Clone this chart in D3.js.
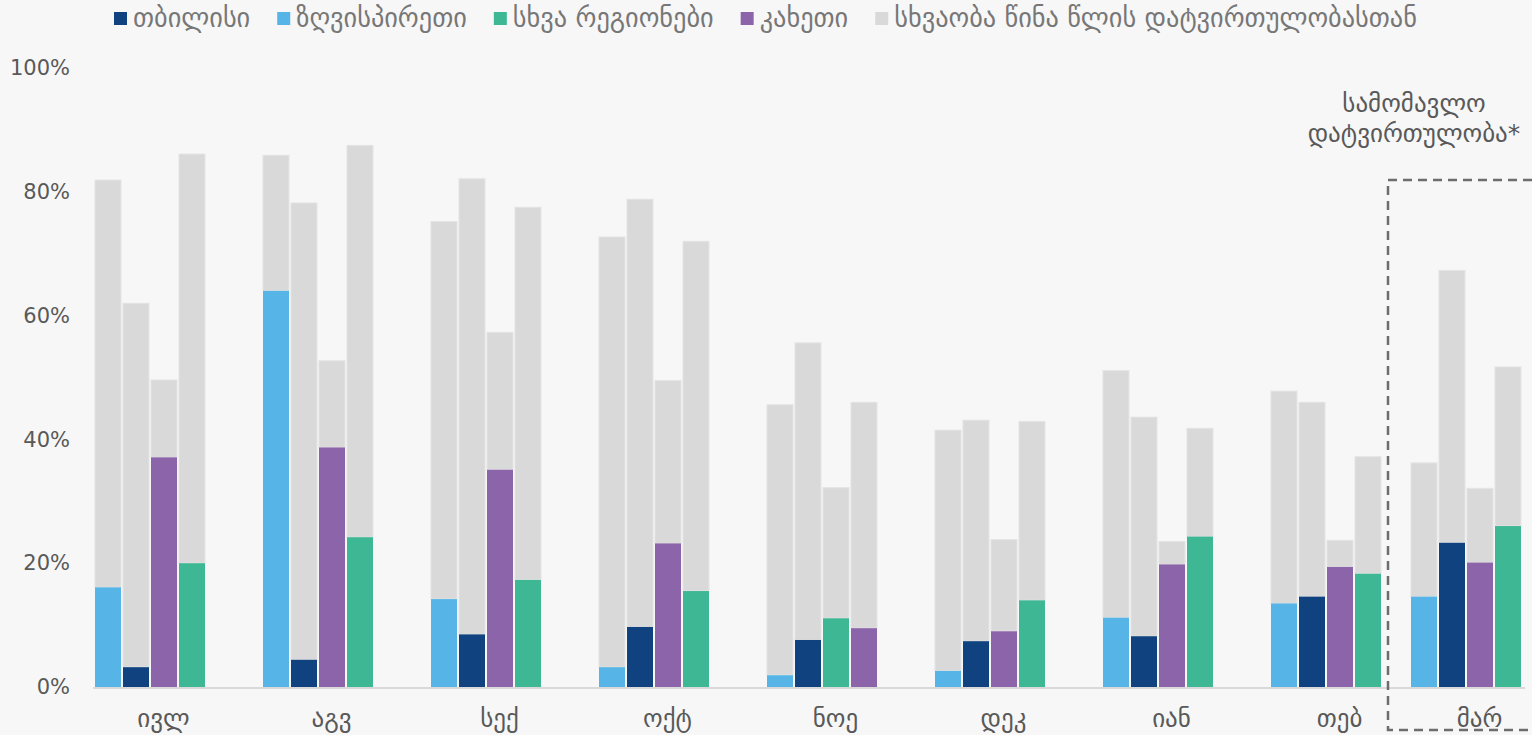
<!DOCTYPE html>
<html><head><meta charset="utf-8">
<script src="https://cdn.jsdelivr.net/npm/d3@7"></script>
<style>
html,body{margin:0;padding:0;background:#f7f7f7;}
svg{display:block;}
</style></head><body>
<svg id="chart" width="1532" height="735"></svg>
<script>
// ---------------- data ----------------
const months = ["ივლ","აგვ","სექ","ოქტ","ნოე","დეკ","იან","თებ","მარ"];
const seriesNames = ["თბილისი","ზღვისპირეთი","სხვა რეგიონები","კახეთი"];
const diffName = "სხვაობა წინა წლის დატვირთულობასთან";
// current occupancy, %
const tbilisi = [3.2, 4.4, 8.5, 9.7, 7.6, 7.4, 8.2, 14.6, 23.3];
const coast   = [16.1, 64.0, 14.2, 3.2, 1.9, 2.6, 11.2, 13.5, 14.6];
const other   = [20.0, 24.2, 17.3, 15.5, 11.1, 14.0, 24.3, 18.3, 26.0];
const kakheti = [37.1, 38.7, 35.1, 23.2, 9.5, 9.0, 19.8, 19.4, 20.1];
// difference to previous year's occupancy, %
const tbilisiDiff = [58.8, 73.8, 73.6, 69.1, 48.0, 35.7, 35.4, 31.4, 44.0];
const coastDiff   = [65.8, 21.9, 61.0, 69.5, 43.7, 38.9, 39.9, 34.3, 21.6];
const otherDiff   = [66.1, 63.3, 60.2, 56.5, 21.1, 28.9, 17.5, 18.9, 25.7];
const kakhetiDiff = [12.5, 14.0, 22.2, 26.3, 36.5, 14.8, 3.7, 4.3, 12.0];
const yTicks = [0, 20, 40, 60, 80, 100];
const forecastMonth = "მარ";
const annotationLines = ["სამომავლო", "დატვირთულობა*"];
// order of series (index into seriesNames) inside each month group
const defaultOrder = [1, 0, 3, 2];
const orderOverrides = { "ნოე": [1, 0, 2, 3] };

// ---------------- styles ----------------
const seriesColors = ["#10427f", "#56b5e6", "#3eb894", "#8c64a9"];
const diffColor = "#d9d9d9";
const textColor = "#595959";
const legendColor = "#777777";
const fontGeo = "'DejaVu Sans', sans-serif";

const values = [tbilisi, coast, other, kakheti];
const diffs = [tbilisiDiff, coastDiff, otherDiff, kakhetiDiff];

const svg = d3.select("#chart");
svg.append("rect").attr("width", 1532).attr("height", 735).attr("fill", "#f7f7f7");

const y = d3.scaleLinear().domain([0, 100]).range([687, 68]);
const regular = months.filter(m => m !== forecastMonth);
const xMain = d3.scaleBand().domain(regular).range([66, 1410])
  .paddingInner(58 / 168).paddingOuter(29 / 168);
const forecastStep = 140;
const gx = m => m === forecastMonth ? xMain(regular[regular.length - 1]) + forecastStep : xMain(m);
const xInner = d3.scaleBand().domain([0, 1, 2, 3]).range([0, xMain.bandwidth()]).paddingInner(2 / 28);

// bar data
const bars = [];
months.forEach((m, i) => {
  const order = orderOverrides[m] || defaultOrder;
  order.forEach((s, slot) => {
    bars.push({ m, i, s, slot, v: values[s][i], d: diffs[s][i] });
  });
});

const gBars = svg.append("g");
// grey difference segments
gBars.selectAll("rect.diff").data(bars).join("rect")
  .attr("class", "diff")
  .attr("x", b => gx(b.m) + xInner(b.slot))
  .attr("width", xInner.bandwidth())
  .attr("y", b => y(b.v + b.d))
  .attr("height", b => y(b.v) - y(b.v + b.d))
  .attr("fill", diffColor)
  .attr("stroke", "#e4e4e4").attr("stroke-width", 1);
// coloured segments
gBars.selectAll("rect.val").data(bars).join("rect")
  .attr("class", "val")
  .attr("x", b => gx(b.m) + xInner(b.slot))
  .attr("width", xInner.bandwidth())
  .attr("y", b => y(b.v))
  .attr("height", b => y(0) - y(b.v))
  .attr("fill", b => seriesColors[b.s]);

// baseline
svg.append("line")
  .attr("x1", 93).attr("x2", 1525)
  .attr("y1", y(0) + 1).attr("y2", y(0) + 1)
  .attr("stroke", "#d9d9d9").attr("stroke-width", 2);

// y axis
const yAxis = svg.append("g").attr("transform", "translate(70,0)")
  .call(d3.axisLeft(y).tickValues(yTicks).tickSize(0).tickPadding(0).tickFormat(d => d + "%"));
yAxis.select(".domain").remove();
yAxis.selectAll("text")
  .attr("font-family", "'DejaVu Sans', sans-serif")
  .attr("font-size", 21).attr("fill", textColor);

// x labels
svg.append("g").selectAll("text").data(months).join("text")
  .attr("x", m => gx(m) + xMain.bandwidth() / 2 + 13.5)
  .attr("y", 718)
  .attr("dy", "0.35em")
  .attr("text-anchor", "middle")
  .attr("font-family", fontGeo).attr("font-size", 25).attr("fill", textColor)
  .text(m => m);

// forecast box
const fx = gx(forecastMonth);
svg.append("rect")
  .attr("x", fx - 23).attr("y", 180)
  .attr("width", 200).attr("height", 550)
  .attr("fill", "none").attr("stroke", "#6d6d6d")
  .attr("stroke-width", 2.5).attr("stroke-dasharray", "9 6");

svg.append("g").selectAll("text").data(annotationLines).join("text")
  .attr("x", fx + 3)
  .attr("y", (d, i) => 103 + i * 30)
  .attr("dy", "0.35em")
  .attr("text-anchor", "middle")
  .attr("font-family", fontGeo).attr("font-size", 25).attr("fill", textColor)
  .text(d => d);

// legend
const legendItems = [
  { name: seriesNames[0], color: seriesColors[0] },
  { name: seriesNames[1], color: seriesColors[1] },
  { name: seriesNames[2], color: seriesColors[2] },
  { name: seriesNames[3], color: seriesColors[3] },
  { name: diffName, color: diffColor }
];
const legend = svg.append("g");
let lx = 114;
legendItems.forEach(item => {
  legend.append("rect").attr("x", lx).attr("y", 12).attr("width", 13).attr("height", 13)
    .attr("fill", item.color);
  const t = legend.append("text").attr("x", lx + 19).attr("y", 18).attr("dy", "0.35em")
    .attr("font-family", fontGeo).attr("font-size", 26.3).attr("fill", legendColor)
    .text(item.name);
  lx += 19 + t.node().getComputedTextLength() + 27;
});
</script>
</body></html>
